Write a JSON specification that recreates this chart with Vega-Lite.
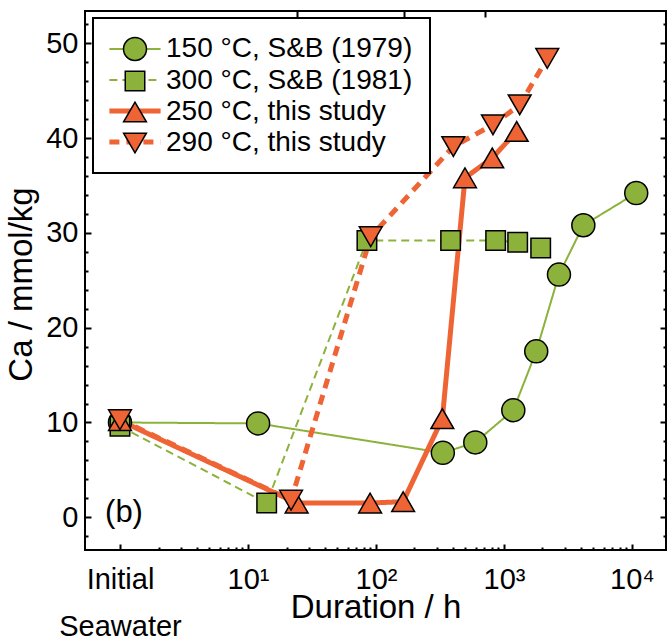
{
  "$schema": "https://vega.github.io/schema/vega-lite/v6.json",
  "width": 581,
  "height": 539,
  "autosize": {"type": "none"},
  "padding": {"left": 85, "top": 11, "right": 2, "bottom": 89},
  "config": {
    "view": {"stroke": "black", "strokeWidth": 2},
    "axis": {"grid": false, "domain": false, "tickColor": "black", "tickWidth": 2, "labelFont": "Liberation Sans", "labelFontSize": 29, "labelColor": "black", "titleFont": "Liberation Sans", "titleFontSize": 33, "titleFontWeight": "normal", "titleColor": "black", "labelFlush": false, "labelOverlap": false},
    "legend": {"labelFont": "Liberation Sans", "labelFontSize": 28, "labelColor": "black", "labelLimit": 0}
  },
  "datasets": {
    "points": [
      {"series": "150 °C, S&B (1979)", "t": 1, "ca": 10.0},
      {"series": "150 °C, S&B (1979)", "t": 12, "ca": 9.9},
      {"series": "150 °C, S&B (1979)", "t": 333, "ca": 6.8},
      {"series": "150 °C, S&B (1979)", "t": 597, "ca": 7.9},
      {"series": "150 °C, S&B (1979)", "t": 1183, "ca": 11.3},
      {"series": "150 °C, S&B (1979)", "t": 1787, "ca": 17.5},
      {"series": "150 °C, S&B (1979)", "t": 2690, "ca": 25.6},
      {"series": "150 °C, S&B (1979)", "t": 4170, "ca": 30.8},
      {"series": "150 °C, S&B (1979)", "t": 10800, "ca": 34.2},
      {"series": "300 °C, S&B (1981)", "t": 1, "ca": 9.6},
      {"series": "300 °C, S&B (1981)", "t": 14, "ca": 1.5},
      {"series": "300 °C, S&B (1981)", "t": 85, "ca": 29.2},
      {"series": "300 °C, S&B (1981)", "t": 383, "ca": 29.2},
      {"series": "300 °C, S&B (1981)", "t": 861, "ca": 29.2},
      {"series": "300 °C, S&B (1981)", "t": 1280, "ca": 29.0},
      {"series": "300 °C, S&B (1981)", "t": 1936, "ca": 28.4},
      {"series": "250 °C, this study", "t": 1, "ca": 10.2},
      {"series": "250 °C, this study", "t": 24, "ca": 1.5},
      {"series": "250 °C, this study", "t": 90, "ca": 1.5},
      {"series": "250 °C, this study", "t": 163, "ca": 1.65},
      {"series": "250 °C, this study", "t": 330, "ca": 10.4},
      {"series": "250 °C, this study", "t": 496, "ca": 35.8},
      {"series": "250 °C, this study", "t": 810, "ca": 37.9},
      {"series": "250 °C, this study", "t": 1257, "ca": 40.7},
      {"series": "290 °C, this study", "t": 1, "ca": 10.3},
      {"series": "290 °C, this study", "t": 21.7, "ca": 1.8},
      {"series": "290 °C, this study", "t": 91, "ca": 29.6},
      {"series": "290 °C, this study", "t": 402, "ca": 39.1},
      {"series": "290 °C, this study", "t": 820, "ca": 41.4},
      {"series": "290 °C, this study", "t": 1327, "ca": 43.5},
      {"series": "290 °C, this study", "t": 2180, "ca": 48.4}
    ],
    "label": [{"t": 1.075, "ca": 0.45, "label": "(b)"}]
  },
  "layer": [
    {
      "data": {"name": "points"},
      "transform": [{"filter": {"field": "series", "oneOf": ["150 °C, S&B (1979)", "300 °C, S&B (1981)"]}}],
      "mark": {"type": "line"},
      "encoding": {
        "x": {"field": "t", "type": "quantitative", "scale": {"type": "log", "domain": [0.533, 18450], "nice": false},
          "axis": {"orient": "bottom", "values": [1, 10, 100, 1000, 10000], "labelExpr": "datum.value < 2 ? ['Initial', 'Seawater'] : datum.value < 20 ? '10¹' : datum.value < 200 ? '10²' : datum.value < 2000 ? '10³' : '10⁴'", "labelLineHeight": 47, "tickSize": -6, "labelPadding": 21, "title": "Duration / h", "titleY": 67, "titleBaseline": "alphabetic"}},
        "y": {"field": "ca", "type": "quantitative", "scale": {"domain": [-3.45, 53.4], "nice": false, "zero": false},
          "axis": {"orient": "left", "values": [0, 10, 20, 30, 40, 50], "tickSize": -6, "labelPadding": 13, "title": "Ca / mmol/kg", "titleX": -54, "titleY": 273, "titleBaseline": "alphabetic"}},
        "stroke": {"field": "series", "type": "nominal",
          "scale": {"domain": ["150 °C, S&B (1979)", "300 °C, S&B (1981)", "250 °C, this study", "290 °C, this study"], "range": ["#8cb23c", "#8cb23c", "#ee6435", "#ee6435"]},
          "legend": {"orient": "none", "legendX": 8, "legendY": 7, "title": null, "symbolType": "M-3.2,0H3.2", "symbolSize": 256, "symbolOffset": 11, "labelOffset": 17, "labelOpacity": 0, "rowPadding": 3, "padding": 17, "strokeColor": "black", "fillColor": "white", "encode": {"legend": {"update": {"strokeWidth": {"value": 2}}}}}},
        "strokeDash": {"field": "series", "type": "nominal",
          "scale": {"domain": ["150 °C, S&B (1979)", "300 °C, S&B (1981)", "250 °C, this study", "290 °C, this study"], "range": [[1, 0], [8, 5], [1, 0], [10, 7]]}},
        "strokeWidth": {"field": "series", "type": "nominal",
          "scale": {"type": "ordinal", "domain": ["150 °C, S&B (1979)", "300 °C, S&B (1981)", "250 °C, this study", "290 °C, this study"], "range": [2, 2, 5, 5]}}
      }
    },
    {
      "data": {"name": "points"},
      "transform": [{"filter": {"field": "series", "oneOf": ["250 °C, this study", "290 °C, this study"]}}],
      "mark": {"type": "line"},
      "encoding": {
        "x": {"field": "t", "type": "quantitative", "scale": {"type": "log", "domain": [0.533, 18450], "nice": false},
          "axis": {"orient": "bottom", "values": [2, 3, 4, 5, 6, 7, 8, 9, 20, 30, 40, 50, 60, 70, 80, 90, 200, 300, 400, 500, 600, 700, 800, 900, 2000, 3000, 4000, 5000, 6000, 7000, 8000, 9000], "labels": false, "tickSize": -3, "title": null}},
        "y": {"field": "ca", "type": "quantitative", "scale": {"domain": [-3.45, 53.4], "nice": false, "zero": false},
          "axis": {"orient": "left", "values": [-2, 2, 4, 6, 8, 12, 14, 16, 18, 22, 24, 26, 28, 32, 34, 36, 38, 42, 44, 46, 48, 52], "labels": false, "tickSize": -3, "title": null}},
        "stroke": {"field": "series", "type": "nominal",
          "scale": {"domain": ["150 °C, S&B (1979)", "300 °C, S&B (1981)", "250 °C, this study", "290 °C, this study"], "range": ["#8cb23c", "#8cb23c", "#ee6435", "#ee6435"]},
          "legend": {"orient": "none", "legendX": 8, "legendY": 7, "title": null, "symbolType": "M-3.2,0H3.2", "symbolSize": 256, "symbolOffset": 11, "labelOffset": 17, "labelOpacity": 0, "rowPadding": 3, "padding": 17, "strokeColor": "black", "fillColor": "white", "encode": {"legend": {"update": {"strokeWidth": {"value": 2}}}}}},
        "strokeDash": {"field": "series", "type": "nominal",
          "scale": {"domain": ["150 °C, S&B (1979)", "300 °C, S&B (1981)", "250 °C, this study", "290 °C, this study"], "range": [[1, 0], [8, 5], [1, 0], [10, 7]]}},
        "strokeWidth": {"field": "series", "type": "nominal",
          "scale": {"type": "ordinal", "domain": ["150 °C, S&B (1979)", "300 °C, S&B (1981)", "250 °C, this study", "290 °C, this study"], "range": [2, 2, 5, 5]}}
      }
    },
    {
      "data": {"name": "points"},
      "mark": {"type": "point", "filled": true, "stroke": "black", "strokeWidth": 1.5, "opacity": 1},
      "encoding": {
        "x": {"field": "t", "type": "quantitative", "scale": {"type": "log", "domain": [0.533, 18450], "nice": false},
          "axis": {"orient": "top", "values": [24, 166, 710], "labels": false, "tickSize": -6, "title": null}},
        "y": {"field": "ca", "type": "quantitative", "scale": {"domain": [-3.45, 53.4], "nice": false, "zero": false},
          "axis": {"orient": "right", "values": [0, 10, 20, 30, 40, 50], "labels": false, "tickSize": -6, "title": null}},
        "fill": {"field": "series", "type": "nominal",
          "scale": {"domain": ["150 °C, S&B (1979)", "300 °C, S&B (1981)", "250 °C, this study", "290 °C, this study"], "range": ["#8cb23c", "#8cb23c", "#ee6435", "#ee6435"]},
          "legend": {"orient": "none", "legendX": 8, "legendY": 7, "title": null, "symbolOffset": 11, "labelOffset": 17, "rowPadding": 3, "padding": 17, "symbolStrokeColor": "black", "symbolStrokeWidth": 1.5}},
        "shape": {"field": "series", "type": "nominal",
          "scale": {"domain": ["150 °C, S&B (1979)", "300 °C, S&B (1981)", "250 °C, this study", "290 °C, this study"], "range": ["circle", "square", "triangle-up", "triangle-down"]}},
        "size": {"field": "series", "type": "nominal",
          "scale": {"type": "ordinal", "domain": ["150 °C, S&B (1979)", "300 °C, S&B (1981)", "250 °C, this study", "290 °C, this study"], "range": [529, 380, 520, 520]}}
      }
    },
    {
      "data": {"name": "label"},
      "mark": {"type": "text", "font": "Liberation Sans", "fontSize": 31, "align": "center", "baseline": "middle", "color": "black"},
      "encoding": {
        "x": {"field": "t", "type": "quantitative", "scale": {"type": "log", "domain": [0.533, 18450], "nice": false}, "axis": null},
        "y": {"field": "ca", "type": "quantitative", "scale": {"domain": [-3.45, 53.4], "nice": false, "zero": false},
          "axis": {"orient": "right", "values": [-2, 2, 4, 6, 8, 12, 14, 16, 18, 22, 24, 26, 28, 32, 34, 36, 38, 42, 44, 46, 48, 52], "labels": false, "tickSize": -3, "title": null}},
        "text": {"field": "label", "type": "nominal"}
      }
    }
  ],
  "resolve": {
    "axis": {"x": "independent", "y": "independent"},
    "legend": {"fill": "independent", "shape": "independent", "size": "independent"}
  }
}
